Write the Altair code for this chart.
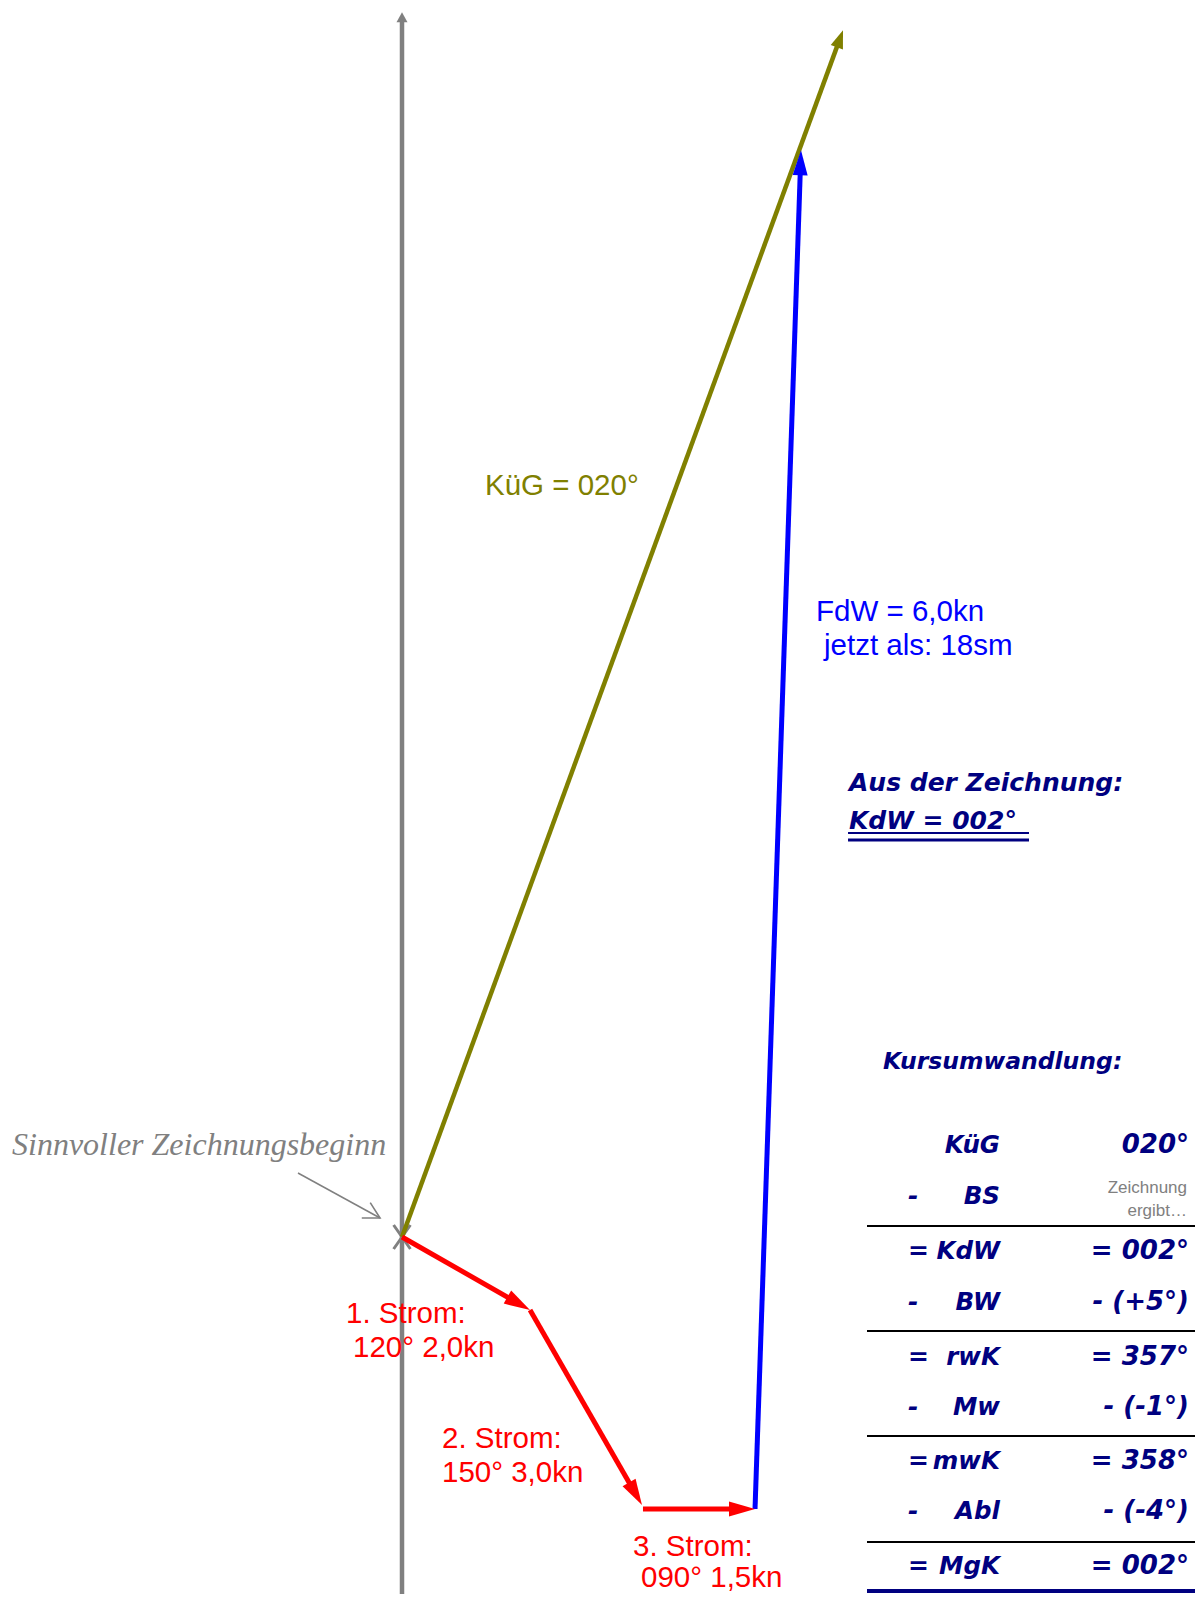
import altair as alt
import numpy as np
import pandas as pd

# ------------------------------------------------------------------
# Data: positions in sea miles (east, north)
# start point ("Sinnvoller Zeichnungsbeginn").
# ------------------------------------------------------------------
arrow_names = ["Nord", "KüG", "1. Strom", "2. Strom", "3. Strom", "FdW"]
arrow_x0 = [0.0, 0.0, 0.0, 1.707, 3.213, 4.707]
arrow_y0 = [-4.81, 0.0, 0.0, -0.973, -3.627, -3.627]
arrow_x1 = [0.0, 5.88, 1.707, 3.20, 4.707, 5.32]
arrow_y1 = [16.33, 16.09, -0.973, -3.573, -3.627, 14.49]

start_x = [0.0]
start_y = [0.0]

pointer_x0 = [-1.387]
pointer_y0 = [0.853]
pointer_x1 = [-0.293]
pointer_y1 = [0.253]

note_text = ["Sinnvoller Zeichnungsbeginn"]
note_x = [-5.2]
note_y = [1.093]

label_text = ["KüG = 020°", "FdW = 6,0kn", "jetzt als: 18sm",
              "1. Strom:", "120° 2,0kn", "2. Strom:", "150° 3,0kn",
              "3. Strom:", "090° 1,5kn"]
label_x = [1.107, 5.52, 5.627, -0.747, -0.653, 0.533, 0.533, 3.08, 3.187]
label_y = [9.893, 8.213, 7.76, -1.147, -1.6, -2.813, -3.267, -4.253, -4.667]
label_group = ["kueg", "fdw", "fdw", "strom", "strom", "strom", "strom",
               "strom", "strom"]

result_text = ["Aus der Zeichnung:", "KdW = 002°", "Kursumwandlung:"]
result_x = [5.96, 5.96, 6.413]
result_y = [5.947, 5.44, 2.24]
underline_x0 = [5.947, 5.947]
underline_x1 = [8.36, 8.36]
underline_y = [5.387, 5.293]

table_ops = ["", "-", "=", "-", "=", "-", "=", "-", "="]
table_names = ["KüG", "BS", "KdW", "BW", "rwK", "Mw", "mwK", "Abl", "MgK"]
table_values = ["020°", "", "= 002°", "- (+5°)", "= 357°", "- (-1°)",
                "= 358°", "- (-4°)", "= 002°"]
table_row_y = [1.12, 0.44, -0.293, -0.973, -1.707, -2.373, -3.093, -3.76,
               -4.493]
table_op_x = 6.747
table_name_x = 7.973
table_value_x = 10.493
bs_note = ["Zeichnung", "ergibt…"]
bs_note_y = [0.587, 0.28]
table_rule_y = [0.147, -1.253, -2.653, -4.067, -4.72]
table_rule_x0 = 6.2
table_rule_x1 = 10.75

# ------------------------------------------------------------------
# Styles / layout
# ------------------------------------------------------------------
PX = 75.0                 # pixels per sea mile
W, H = 1187, 1586         # plot size
ORIGIN = (394.0, 1229.0)  # start point inside the plot area (px)

arrow_colors = ["#808080", "#808000", "#FF0000", "#FF0000", "#FF0000", "#0000FF"]
arrow_widths = [4.5, 4.5, 5, 5, 5, 5]
head_len = [10, 18, 26, 26, 26, 25]
head_half = [5.5, 6.5, 7.5, 7.5, 7.5, 7.5]
label_colors = {"kueg": "#808000", "fdw": "#0000FF", "strom": "#FF0000"}
label_sizes = {"kueg": 29.5, "fdw": 29.5, "strom": 29.5}
NAVY = "#000080"
GREY = "#808080"

xs = alt.Scale(domain=[-ORIGIN[0] / PX, (W - ORIGIN[0]) / PX], nice=False, zero=False)
ys = alt.Scale(domain=[-(H - ORIGIN[1]) / PX, ORIGIN[1] / PX], nice=False, zero=False)


def X(f):
    return alt.X(f, type="quantitative", scale=xs, axis=None)


def Y(f):
    return alt.Y(f, type="quantitative", scale=ys, axis=None)


# arrows
a = pd.DataFrame(dict(name=arrow_names, x0=arrow_x0, y0=arrow_y0,
                      x1=arrow_x1, y1=arrow_y1, color=arrow_colors,
                      w=arrow_widths, hl=head_len, hh=head_half))
dx = a.x1 - a.x0
dy = a.y1 - a.y0
ln = np.hypot(dx, dy)
a["xs"] = a.x1 - dx / ln * a.hl * 0.6 / PX
a["ys"] = a.y1 - dy / ln * a.hl * 0.6 / PX
a["angle"] = np.degrees(np.arctan2(dx, dy)) % 360
a["shape"] = [f"M0,0L{2*h/l:.3f},2L{-2*h/l:.3f},2Z" for h, l in zip(a.hh, a.hl)]
a["size"] = a.hl.astype(float) ** 2

shafts = alt.Chart(a).mark_rule().encode(
    x=X("x0"), y=Y("y0"), x2="xs:Q", y2="ys:Q",
    color=alt.Color("color:N", scale=None),
    strokeWidth=alt.StrokeWidth("w:Q", scale=None),
)
heads = alt.Chart(a).mark_point(filled=True, opacity=1, strokeWidth=0).encode(
    x=X("x1"), y=Y("y1"),
    shape=alt.Shape("shape:N", scale=None),
    size=alt.Size("size:Q", scale=None),
    angle=alt.Angle("angle:Q", scale=None),
    color=alt.Color("color:N", scale=None),
)

gray_shaft = shafts.transform_filter(alt.datum.name == "Nord")
gray_head = heads.transform_filter(alt.datum.name == "Nord")
other_shaft = shafts.transform_filter(alt.datum.name != "Nord")
other_head = heads.transform_filter(alt.datum.name != "Nord")

# start cross
start_df = pd.DataFrame(dict(x=start_x, y=start_y))
start_mark = alt.Chart(start_df).mark_point(
    shape="M-0.7,-1L0.7,1M-0.7,1L0.7,-1", size=576, filled=False,
    strokeWidth=3, color=GREY, opacity=1,
).encode(x=X("x"), y=Y("y"))

# pointer
p = pd.DataFrame(dict(x0=pointer_x0, y0=pointer_y0, x1=pointer_x1, y1=pointer_y1))
p["angle"] = np.degrees(np.arctan2(p.x1 - p.x0, p.y1 - p.y0)) % 360
pointer_line = alt.Chart(p).mark_rule(color=GREY, strokeWidth=1.5).encode(
    x=X("x0"), y=Y("y0"), x2="x1:Q", y2="y1:Q")
pointer_head = alt.Chart(p).mark_point(
    shape="M-1.1,2L0,0L1.1,2", size=256, filled=False, strokeWidth=1.6,
    color=GREY, opacity=1,
).encode(x=X("x1"), y=Y("y1"), angle=alt.Angle("angle:Q", scale=None))

# texts
note_df = pd.DataFrame(dict(t=note_text, x=note_x, y=note_y))
note = alt.Chart(note_df).mark_text(
    align="left", baseline="alphabetic", font="Liberation Serif",
    fontStyle="italic", fontSize=32, color=GREY,
).encode(x=X("x"), y=Y("y"), text="t:N")

lab_df = pd.DataFrame(dict(t=label_text, x=label_x, y=label_y, g=label_group))
lab_df["color"] = lab_df.g.map(label_colors)
lab_df["fs"] = lab_df.g.map(label_sizes)
labels = alt.Chart(lab_df).mark_text(
    align="left", baseline="alphabetic", font="Liberation Sans",
).encode(x=X("x"), y=Y("y"), text="t:N",
         color=alt.Color("color:N", scale=None),
         size=alt.Size("fs:Q", scale=None))

res_df = pd.DataFrame(dict(t=result_text, x=result_x, y=result_y, fs=[25, 25, 23.5]))
results = alt.Chart(res_df).mark_text(
    align="left", baseline="alphabetic", font="DejaVu Sans",
    fontWeight="bold", fontStyle="italic", color=NAVY,
).encode(x=X("x"), y=Y("y"), text="t:N", size=alt.Size("fs:Q", scale=None))

ul_df = pd.DataFrame(dict(x0=underline_x0, x1=underline_x1, y=underline_y, w=[2, 3]))
underline = alt.Chart(ul_df).mark_rule(color=NAVY).encode(
    x=X("x0"), x2="x1:Q", y=Y("y"),
    strokeWidth=alt.StrokeWidth("w:Q", scale=None))

tab = pd.DataFrame(dict(op=table_ops, name=table_names, val=table_values, y=table_row_y))
tab["xo"] = table_op_x
tab["xn"] = table_name_x
tab["xv"] = table_value_x
tstyle = dict(baseline="alphabetic", font="DejaVu Sans", fontWeight="bold",
              fontStyle="italic", color=NAVY)
t_ops = alt.Chart(tab).mark_text(align="left", fontSize=25, **tstyle).encode(
    x=X("xo"), y=Y("y"), text="op:N")
t_names = alt.Chart(tab).mark_text(align="right", fontSize=24.5, **tstyle).encode(
    x=X("xn"), y=Y("y"), text="name:N")
t_vals = alt.Chart(tab).mark_text(align="right", fontSize=26, **tstyle).encode(
    x=X("xv"), y=Y("y"), text="val:N")

bs_df = pd.DataFrame(dict(t=bs_note, y=bs_note_y))
bs_df["x"] = 10.467
bs_text = alt.Chart(bs_df).mark_text(
    align="right", baseline="alphabetic", font="Liberation Sans",
    fontSize=17, color=GREY,
).encode(x=X("x"), y=Y("y"), text="t:N")

rules_df = pd.DataFrame(dict(y=table_rule_y))
rules_df["x0"] = table_rule_x0
rules_df["x1"] = table_rule_x1
rules_df["color"] = ["#000000"] * (len(table_rule_y) - 1) + [NAVY]
rules_df["w"] = [2] * (len(table_rule_y) - 1) + [4]
t_rules = alt.Chart(rules_df).mark_rule().encode(
    x=X("x0"), x2="x1:Q", y=Y("y"),
    color=alt.Color("color:N", scale=None),
    strokeWidth=alt.StrokeWidth("w:Q", scale=None))

chart = alt.layer(
    gray_shaft, gray_head, start_mark, other_shaft, other_head,
    pointer_line, pointer_head, note, labels, results, underline,
    t_rules, t_ops, t_names, t_vals, bs_text,
).properties(
    width=W, height=H, padding=0,
    autosize=alt.AutoSizeParams(type="none"),
    background="white",
).configure_view(stroke=None)

chart.save("out.html", embed_options={"renderer": "svg", "actions": False})
